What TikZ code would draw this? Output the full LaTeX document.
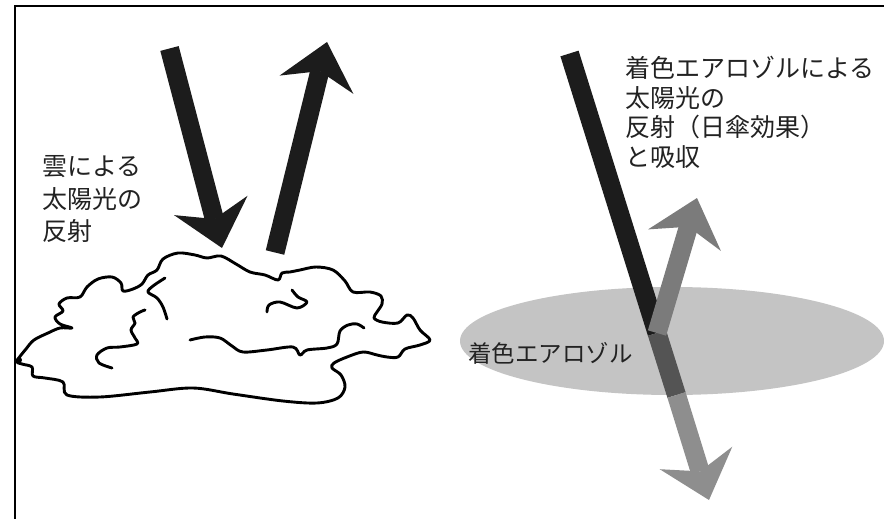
\documentclass[tikz,border=0pt]{standalone}
\usepackage{fontspec}
\newfontfamily\jp{Noto Sans CJK JP}
\usetikzlibrary{arrows.meta,shapes.geometric}

\definecolor{inkdark}{HTML}{1C1C1C}
\definecolor{raymid}{HTML}{545454}
\definecolor{raylow}{HTML}{8E8E8E}
\definecolor{rayup}{HTML}{7B7B7B}
\definecolor{haze}{HTML}{C4C4C4}
\definecolor{labelink}{HTML}{222222}

\tikzset{
  frameline/.style={line width=2.5pt, black},
  bigarrow/.style={line width=19pt,
    -{Stealth[length=44pt, width=76pt, inset=14pt, line width=0pt]}},
  rayseg/.style={line width=19pt, line cap=butt},
  cloudline/.style={line width=2.9pt, black, line cap=round, line join=round},
  label/.style={inner sep=0pt, align=left, text=labelink,
    font=\jp\fontsize{25}{32.5}\selectfont},
}

\begin{document}
\begin{tikzpicture}[x=1pt, y=-1pt]
\useasboundingbox (0,0) rectangle (884,519);
\fill[white] (0,0) rectangle (884,519);

% frame on the top and left sides
\coordinate (fbl) at (15,519);
\coordinate (fcorner) at (15,6);
\coordinate (ftr) at (884,6);
\draw[frameline] (fbl) -- (fcorner) -- (ftr);

% ---------------- cloud ----------------
\draw[cloudline, fill=white] plot[smooth cycle, tension=0.55] coordinates {
  (17,361) (26,349) (34,340) (48,333) (60,328) (72,328) (60,324) (55,317)
  (63,311) (59,304) (67,298) (80,297) (87,287) (98,279) (112,277) (121,283)
  (123,291) (133,289) (142,284) (148,275) (157,270) (163,259) (178,253)
  (195,255) (207,258) (221,256) (236,264) (250,272) (265,275) (278,280)
  (282,273) (290,272) (300,270) (316,267) (333,270) (345,281) (353,292)
  (370,292) (381,296) (382,304) (377,312) (374,318) (382,322) (398,323)
  (407,315) (413,318) (420,330) (430,340) (420,345) (405,349) (398,357)
  (387,357) (377,355) (363,352) (347,357) (334,363) (332,368) (341,375)
  (345,387) (338,398) (317,403) (283,401) (233,394) (193,388) (150,392)
  (100,397) (67,395) (63,382) (45,378) (33,376) (32,367) (22,364)
};
\fill (19,360) circle (3pt);
% interior folds
\draw[cloudline] plot[smooth, tension=0.55] coordinates {
  (190,340) (205,337) (220,338) (232,346) (243,352) (267,350) (293,347)
  (300,355) (307,350) (327,348) (337,344) (340,331) (348,325) (357,324) (364,328)};
\draw[cloudline] plot[smooth, tension=0.55] coordinates {
  (112,368) (99,363) (97,355) (107,348) (120,347) (137,344) (135,338)
  (131,330) (135,323) (133,317) (140,312) (145,310)};
\draw[cloudline] plot[smooth, tension=0.55] coordinates {
  (165,278) (153,286) (148,292) (157,298) (163,307) (167,319)};
\draw[cloudline] plot[smooth, tension=0.55] coordinates {
  (267,312) (269,305) (280,302) (297,308) (307,302) (298,297) (292,290)};

% ---------------- reflection by the cloud ----------------
\coordinate (inTop) at (169.5,48.5);
\coordinate (inTip) at (222,248);
\coordinate (outBase) at (275,252.5);
\coordinate (outTip) at (327,42);
\draw[bigarrow, inkdark] (inTop) -- (inTip);
\draw[bigarrow, inkdark] (outBase) -- (outTip);

% the base anchor of a multi-line label sits on its last line
\node[label, anchor=base west] (cloudlbl) at (42,240.5)
  {雲による\\太陽光の\\反射};

% ---------------- absorbing aerosol layer ----------------
\node[ellipse, fill=haze, draw=none, minimum width=424pt,
  minimum height=108pt, inner sep=0pt] (layer) at (672,341) {};

\coordinate (rtop) at (569.5,53.5);
\coordinate (rsplit) at (657,333);
\coordinate (rexit) at (676.5,395);
\coordinate (rtip) at (709,500);
\coordinate (uptip) at (697,198);

\draw[rayseg, inkdark] (rtop) -- (rsplit);
\draw[rayseg, raymid] (rsplit) -- (rexit);
\draw[bigarrow, raylow] (rexit) -- (rtip);
\draw[bigarrow, rayup] (rsplit) -- (uptip);

\node[label, anchor=base west, font=\jp\fontsize{23.5}{28}\selectfont]
  (layerlbl) at (468,362) {着色エアロゾル};

\node[label, anchor=base west, font=\jp\fontsize{25}{29.7}\selectfont]
  (aerolbl) at (625,166.5)
  {着色エアロゾルによる\\太陽光の\\反射（日傘効果）\\と吸収};
\end{tikzpicture}
\end{document}
